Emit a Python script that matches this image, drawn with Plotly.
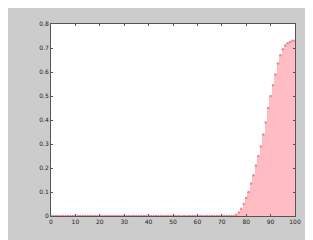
import plotly.graph_objects as go

x_vals = list(range(0, 101))
rise_vals = [0.0, 0.005, 0.015, 0.03, 0.05, 0.075, 0.10, 0.135, 0.17, 0.21, 0.25, 0.29,
             0.34, 0.39, 0.45, 0.50, 0.545, 0.59, 0.635, 0.67, 0.695, 0.71, 0.72, 0.725,
             0.73, 0.73]
y_vals = [0.0] * 75 + rise_vals
x_ticks = list(range(0, 101, 10))
y_ticks = [0, 0.1, 0.2, 0.3, 0.4, 0.5, 0.6, 0.7, 0.8]
y_tick_text = ["0", "0.1", "0.2", "0.3", "0.4", "0.5", "0.6", "0.7", "0.8"]

fig = go.Figure()
fig.add_trace(go.Bar(x=x_vals, y=y_vals, width=1.0,
                     marker=dict(color="#ffbcc3", line=dict(width=0)),
                     showlegend=False))
fig.add_trace(go.Scatter(x=x_vals, y=y_vals, mode="markers",
                         marker=dict(size=2.5, color="#e88890"),
                         showlegend=False))

axis_common = dict(showline=True, linecolor="#555555", linewidth=1, mirror="ticks",
                   ticks="inside", ticklen=2, tickcolor="#555555", showgrid=False,
                   zeroline=False, tickfont=dict(family="DejaVu Sans", size=6, color="#222222"))
fig.update_layout(
    width=313, height=240,
    margin=dict(l=43, r=26, t=16, b=32),
    paper_bgcolor="#cccccc", plot_bgcolor="#ffffff",
    bargap=0,
    xaxis=dict(range=[0, 100], tickvals=x_ticks, **axis_common),
    yaxis=dict(range=[0, 0.8], tickvals=y_ticks, ticktext=y_tick_text, **axis_common),
)
fig.write_html("out.html")
